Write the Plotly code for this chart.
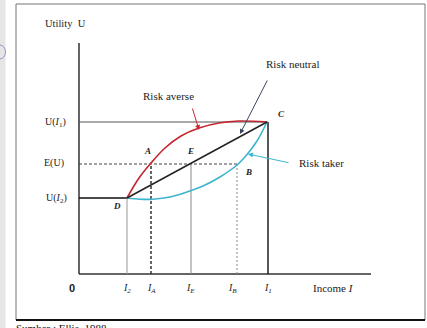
import plotly.graph_objects as go

# ---- data (income / utility units) ----
income_ticks = {"I2": 48, "IA": 72, "IE": 112, "IB": 158, "I1": 189}
U2, EU, U1 = 76, 110, 152

averse_x = [48, 60, 72, 86, 102, 120, 140, 160, 188]
averse_y = [76, 96, 111, 126, 138, 146, 151, 153, 152]

taker_x = [48, 61, 74, 91, 108, 124, 141, 158, 168, 178, 188]
taker_y = [76, 74.8, 74.8, 77, 82, 88, 97, 109, 119.5, 133, 152]

neutral_x = [48, 188]
neutral_y = [76, 152]

I2, IA, IE, IB, I1 = (income_ticks[k] for k in ["I2", "IA", "IE", "IB", "I1"])

W, H = 427, 328
X0, Y0 = 79, 274  # pixel position of the origin

RED = "#c4262e"
CYAN = "#3cb4cf"
SERIF = "Liberation Serif, Times New Roman, serif"

fig = go.Figure()

def seg(x, y, color, width=1, dash="solid"):
    fig.add_trace(go.Scatter(x=x, y=y, mode="lines", line=dict(color=color, width=width, dash=dash),
                             hoverinfo="skip", showlegend=False))

# axes
seg([0, 0], [0, 231], "#111", 1.3)
seg([0, 292], [0, 0], "#333", 1.3)

# guide lines
seg([0, I1], [U1, U1], "#555", 1)
seg([0, IB], [EU, EU], "#444", 1, "3px,2px")
seg([0, I2], [U2, U2], "#111", 1.3)
seg([I2, I2], [0, U2], "#999", 1)
seg([IA, IA], [0, EU], "#333", 1.5, "3px,2px")
seg([IE, IE], [0, EU], "#888", 1)
seg([IB, IB], [0, EU], "#888", 1, "2px,2px")
seg([I1, I1], [0, U1], "#111", 1.4)

# curves
fig.add_trace(go.Scatter(x=averse_x, y=averse_y, mode="lines",
                         line=dict(color=RED, width=1.6, shape="spline", smoothing=1.0),
                         hoverinfo="skip", showlegend=False))
fig.add_trace(go.Scatter(x=taker_x, y=taker_y, mode="lines",
                         line=dict(color=CYAN, width=1.6, shape="spline", smoothing=1.0),
                         hoverinfo="skip", showlegend=False))
fig.add_trace(go.Scatter(x=neutral_x, y=neutral_y, mode="lines", line=dict(color="#222", width=1.5),
                         hoverinfo="skip", showlegend=False))

ann = []
def txt(x, y, s, size=10, bold=False, italic=False, color="#222", family=SERIF, xanchor="center"):
    ann.append(dict(x=x, y=y, xref="x", yref="y", text=s, showarrow=False, xanchor=xanchor,
                    font=dict(size=size, color=color, family=family,
                              weight="bold" if bold else "normal",
                              style="italic" if italic else "normal")))

# tick labels
txt(-7, -14, "0", 11, bold=True, family="Liberation Sans, Arial, sans-serif")
txt(I2, -14, "I<sub>2</sub>", 10, italic=True)
txt(IA, -14, "I<sub>A</sub>", 10, italic=True)
txt(IE - 1, -14, "I<sub>E</sub>", 10, italic=True)
txt(IB - 5, -14, "I<sub>B</sub>", 10, italic=True)
txt(I1, -14, "I<sub>1</sub>", 10, italic=True)
txt(254, -14, "Income <i>I</i>", 11)

txt(-24, U1, "U(<i>I</i><sub>1</sub>)", 10)
txt(-25, EU + 1, "E(U)", 10)
txt(-23, U2, "U(<i>I</i><sub>2</sub>)", 10)
txt(-14, 251, "Utility  U", 10.5)

# point letters
txt(68, 123, "A", 9, bold=True, italic=True)
txt(111, 123, "E", 9, bold=True, italic=True)
txt(202, 160, "C", 9, bold=True, italic=True)
txt(38, 68, "D", 9, bold=True, italic=True)
txt(169, 102, "B", 9, bold=True, italic=True)

# curve labels
txt(89, 178, "Risk averse", 11)
txt(213, 210, "Risk neutral", 11)
txt(242, 111, "Risk taker", 11)

def arrow(tx, ty, hx, hy, color):
    ann.append(dict(x=hx, y=hy, ax=tx, ay=ty, xref="x", yref="y", axref="x", ayref="y",
                    text="", showarrow=True, arrowhead=2, arrowsize=1, arrowwidth=1,
                    arrowcolor=color, standoff=0, startstandoff=0))

arrow(113, 167, 120, 144, RED)
arrow(189, 195, 161, 140, "#3a4660")
arrow(211, 111, 169, 120, CYAN)

# source
ann.append(dict(x=14 / W, y=1 - 320 / H, xref="paper", yref="paper", xanchor="left", yanchor="top",
                text="Sumber : Ellis, 1988", showarrow=False,
                font=dict(size=11, color="#111", family=SERIF)))

shapes = [
    dict(type="rect", xref="paper", yref="paper", x0=0, x1=5.5 / W, y0=0, y1=1,
         fillcolor="#e6e6e6", line=dict(width=0), layer="below"),
    dict(type="circle", xref="paper", yref="paper", x0=-6 / W, x1=5.5 / W, y0=1 - 59 / H, y1=1 - 45 / H,
         line=dict(color="#9b90cc", width=1)),
    dict(type="rect", xref="paper", yref="paper", x0=16 / W, x1=425 / W, y0=1 - 320 / H, y1=1 - 4 / H,
         line=dict(color="#777", width=1)),
    dict(type="line", xref="paper", yref="paper", x0=16 / W, x1=425 / W, y0=1 - 320 / H, y1=1 - 320 / H,
         line=dict(color="#111", width=2)),
]

fig.update_layout(
    width=W, height=H, margin=dict(l=0, r=0, t=0, b=0),
    paper_bgcolor="white", plot_bgcolor="white",
    xaxis=dict(range=[-X0, W - X0], visible=False, fixedrange=True),
    yaxis=dict(range=[Y0 - H, Y0], visible=False, fixedrange=True),
    annotations=ann, shapes=shapes,
)

fig.write_html("out.html")
